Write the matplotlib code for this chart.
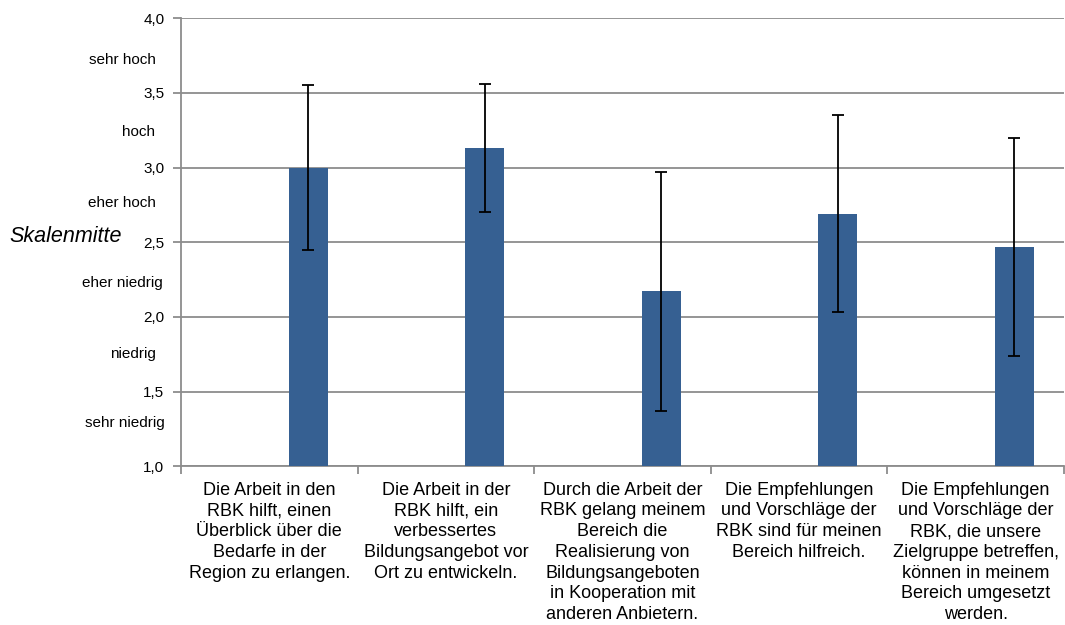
import matplotlib.pyplot as plt
import matplotlib.transforms as mtransforms
import numpy as np

plt.rcParams["font.family"] = ["Liberation Sans", "DejaVu Sans"]

CATEGORIES = [
    "Die Arbeit in den\nRBK hilft, einen\nÜberblick über die\nBedarfe in der\nRegion zu erlangen.",
    "Die Arbeit in der\nRBK hilft, ein\nverbessertes\nBildungsangebot vor\nOrt zu entwickeln.",
    "Durch die Arbeit der\nRBK gelang meinem\nBereich die\nRealisierung von\nBildungsangeboten\nin Kooperation mit\nanderen Anbietern.",
    "Die Empfehlungen\nund Vorschläge der\nRBK sind für meinen\nBereich hilfreich.",
    "Die Empfehlungen\nund Vorschläge der\nRBK, die unsere\nZielgruppe betreffen,\nkönnen in meinem\nBereich umgesetzt\nwerden.",
]
MEANS = [3.00, 3.13, 2.17, 2.69, 2.47]
SD = [0.55, 0.43, 0.80, 0.66, 0.73]

SCALE_LABELS = ["sehr hoch", "hoch", "eher hoch", "eher niedrig", "niedrig", "sehr niedrig"]
SCALE_POS = [3.72, 3.24, 2.76, 2.23, 1.75, 1.29]
SCALE_X = [0.146, 0.146, 0.146, 0.153, 0.146, 0.155]

BAR_COLOR = "#366092"
GRID_COLOR = "#8c8c8c"


def main():
    fig = plt.figure(figsize=(10.65, 6.25), dpi=100)
    ax = fig.add_axes([0.170, 0.254, 0.829, 0.717])

    x = np.arange(len(CATEGORIES))
    ax.bar(x + 0.22, MEANS, width=0.22, color=BAR_COLOR, zorder=3,
           yerr=SD, error_kw=dict(ecolor="black", elinewidth=1.3,
                                  capsize=4.5, capthick=1.3, zorder=4))

    ax.set_xlim(-0.5, len(CATEGORIES) - 0.5)
    ax.set_ylim(1.0, 4.0)
    ax.set_yticks(np.arange(1.0, 4.01, 0.5))
    ax.set_yticklabels([f"{v:.1f}".replace(".", ",") for v in np.arange(1.0, 4.01, 0.5)],
                       fontsize=11)
    ax.yaxis.grid(True, color=GRID_COLOR, linewidth=1.3, zorder=0)

    ax.set_xticks(np.arange(-0.5, len(CATEGORIES)), minor=False)
    ax.set_xticklabels([])
    ax.set_xticks(x, minor=True)
    ax.set_xticklabels(CATEGORIES, minor=True, fontsize=13, linespacing=1.29,
                       va="top")
    ax.tick_params(axis="x", which="minor", length=0, pad=11)
    ax.tick_params(axis="x", which="major", length=6, color=GRID_COLOR, width=1.3)
    ax.tick_params(axis="y", length=6, color=GRID_COLOR, width=1.3, pad=6)

    for side in ["top", "right"]:
        ax.spines[side].set_visible(False)
    for side in ["left", "bottom"]:
        ax.spines[side].set_color(GRID_COLOR)
        ax.spines[side].set_linewidth(1.3)

    trans = mtransforms.blended_transform_factory(fig.transFigure, ax.transData)
    for label, ypos, xpos in zip(SCALE_LABELS, SCALE_POS, SCALE_X):
        ax.text(xpos, ypos, label, transform=trans, ha="right", va="center",
                fontsize=11, clip_on=False)
    ax.text(0.009, 2.54, "Skalenmitte", transform=trans, ha="left", va="center",
            fontsize=15.5, style="italic", clip_on=False)

    fig.savefig("out.png", dpi=100)
    plt.close(fig)


if __name__ == "__main__":
    main()
